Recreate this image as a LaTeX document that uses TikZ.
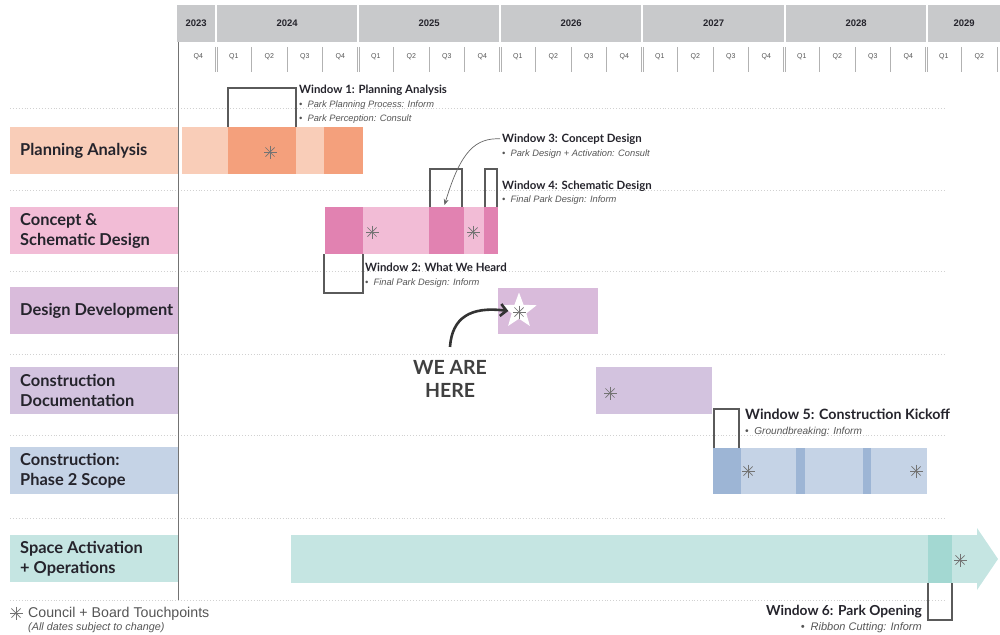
\documentclass[tikz,border=0pt]{standalone}
\usepackage{fontspec}
\setmainfont{Lato}
\newfontfamily\arialfont{Liberation Sans}
\usetikzlibrary{shapes.geometric,arrows.meta,positioning}

\definecolor{paLight}{HTML}{F9CDB8}
\definecolor{paDark}{HTML}{F4A07C}
\definecolor{csLight}{HTML}{F2BCD6}
\definecolor{csDark}{HTML}{E182B1}
\definecolor{ddFill}{HTML}{D9BBDB}
\definecolor{cdFill}{HTML}{D3C3DF}
\definecolor{cpLight}{HTML}{C5D3E6}
\definecolor{cpDark}{HTML}{9DB5D5}
\definecolor{saLight}{HTML}{C5E5E2}
\definecolor{saDark}{HTML}{A3D8D2}
\definecolor{headGray}{HTML}{C8C9CB}
\definecolor{inkDark}{HTML}{25242C}
\definecolor{itemGray}{HTML}{555555}
\definecolor{lineGray}{HTML}{5A5A5A}

\tikzstyle{phase} = [rectangle, inner sep=0pt, outer sep=0pt, anchor=north west,
    minimum height=47pt]
\tikzstyle{phasebox} = [phase, minimum width=168pt]
\tikzstyle{phasetitle} = [inner sep=0pt, align=left, text=inkDark,
    font=\bfseries\fontsize{16.4}{20}\selectfont]
\tikzstyle{yearbox} = [fill=headGray, rectangle, inner sep=0pt, anchor=north west,
    minimum height=37pt, text=inkDark, font=\arialfont\bfseries\fontsize{9.5}{11}\selectfont]
\tikzstyle{quarter} = [text=itemGray, font=\arialfont\fontsize{7}{8}\selectfont]
\tikzstyle{window} = [draw=lineGray, line width=1.1pt]
\tikzstyle{wintitle} = [anchor=base west, inner sep=0pt, text=inkDark,
    font=\bfseries\fontsize{11.4}{13}\selectfont]
\tikzstyle{winitem} = [anchor=base west, inner sep=0pt, text=itemGray,
    font=\arialfont\itshape\fontsize{9.3}{11}\selectfont]
\tikzstyle{divider} = [dotted, line width=0.9pt, color=black!18]

\tikzset{touch/.pic={
    \foreach \a in {0,45,90,135}
        \draw[color=black!55, line width=0.7pt] (\a:6.5pt) -- (\a+180:6.5pt);
}}

\begin{document}
\begin{tikzpicture}[x=1pt,y=-1pt]
\useasboundingbox (0,0) rectangle (1000,634);

% years and quarters
\foreach \yr/\xa/\w in {2023/177/38, 2024/217/140, 2025/359/140, 2026/501/140,
    2027/643/141, 2028/786/140, 2029/928/72}
    \node[yearbox, minimum width=\w pt] (y\yr) at (\xa,5) {\yr};
\foreach \q [count=\k from 0] in {Q4,Q1,Q2,Q3,Q4,Q1,Q2,Q3,Q4,Q1,Q2,Q3,Q4,
    Q1,Q2,Q3,Q4,Q1,Q2,Q3,Q4,Q1,Q2}
    \node[quarter] (q\k) at (198.25+35.5*\k,57) {\q};
\foreach \k in {2,3,4,6,7,8,10,11,12,14,15,16,18,19,20,22,23}
    \draw[black!30, line width=0.6pt] (180.5+35.5*\k,47) -- (180.5+35.5*\k,72);
\foreach \k in {1,5,9,13,17,21} {
    \draw[black!30, line width=0.6pt] (179.3+35.5*\k,47) -- (179.3+35.5*\k,72);
    \draw[black!30, line width=0.6pt] (181.7+35.5*\k,47) -- (181.7+35.5*\k,72);
}

% row dividers
\foreach \yy in {108,190,271,354,435,518,600}
    \draw[divider] (10,\yy) -- (946,\yy);
\draw[black!55, line width=0.8pt] (178,42) -- (178,600);

% phase labels
\node[phasebox, fill=paLight] (paBox) at (10,127) {};
\node[phasetitle, right=10pt of paBox.west] (paTitle) {Planning Analysis};
\node[phasebox, fill=csLight] (csBox) at (10,207) {};
\node[phasetitle, right=10pt of csBox.west] (csTitle) {Concept \&\\Schematic Design};
\node[phasebox, fill=ddFill] (ddBox) at (10,287) {};
\node[phasetitle, right=10pt of ddBox.west] (ddTitle) {Design Development};
\node[phasebox, fill=cdFill] (cdBox) at (10,367) {};
\node[phasetitle, right=10pt of cdBox.west] (cdTitle) {Construction\\Documentation};
\node[phasebox, fill=cpLight] (cpBox) at (10,447) {};
\node[phasetitle, right=10pt of cpBox.west] (cpTitle) {Construction:\\Phase 2 Scope};
\node[phasebox, fill=saLight] (saBox) at (10,535) {};
\node[phasetitle, right=10pt of saBox.west] (saTitle) {Space Activation\\+ Operations};

% planning analysis
\node[phase, fill=paLight, minimum width=181pt] (pa) at (182,127) {};
\node[phase, fill=paDark, minimum width=68pt] (pa1) at (228,127) {};
\node[phase, fill=paDark, minimum width=39pt] (pa2) at (324,127) {};
\pic at (270,152) {touch};

% concept and schematic design
\node[phase, fill=csLight, minimum width=173pt] (cs) at (325,207) {};
\node[phase, fill=csDark, minimum width=38pt] (cs1) at (325,207) {};
\node[phase, fill=csDark, minimum width=35pt] (cs2) at (429,207) {};
\node[phase, fill=csDark, minimum width=14pt] (cs3) at (484,207) {};
\pic at (372,232) {touch};
\pic at (473,232) {touch};

% design development
\node[phase, fill=ddFill, minimum width=100pt, minimum height=46pt] (dd) at (498,288) {};
\node[star, star points=5, star point ratio=2.4, fill=white, minimum size=37pt,
    inner sep=0pt] (here) at (519,311) {};
\pic at (519,312) {touch};

% construction documentation
\node[phase, fill=cdFill, minimum width=116pt] (cd) at (596,367) {};
\pic at (610,393) {touch};

% construction phase 2
\node[phase, fill=cpLight, minimum width=214pt, minimum height=46pt] (cp) at (713,448) {};
\node[phase, fill=cpDark, minimum width=28pt, minimum height=46pt] (cp1) at (713,448) {};
\node[phase, fill=cpDark, minimum width=9pt, minimum height=46pt] (cp2) at (796,448) {};
\node[phase, fill=cpDark, minimum width=8pt, minimum height=46pt] (cp3) at (863,448) {};
\pic at (748,471) {touch};
\pic at (916,471) {touch};

% space activation
\node[phase, fill=saLight, minimum width=686pt, minimum height=48pt] (sa) at (291,535) {};
\fill[saLight] (sa.north east) -- ++(0,-7) -- (998,559) -- (977,590) -- (sa.south east) -- cycle;
\node[phase, fill=saDark, minimum width=24pt, minimum height=48pt] (sa1) at (928,535) {};
\pic at (960,560) {touch};

% engagement windows
\draw[window] (pa1.north west) -- ++(0,-39) -| (pa1.north east);
\node[wintitle] (w1) at (299,93) {Window 1: Planning Analysis};
\node[winitem] (w1a) at (299,107) {\textbullet\ \ Park Planning Process: Inform};
\node[winitem] (w1b) at (299,121) {\textbullet\ \ Park Perception: Consult};

\draw[window] ([xshift=-1pt]cs1.south west) -- ++(0,39) -| (cs1.south east);
\node[wintitle] (w2) at (365,271) {Window 2: What We Heard};
\node[winitem] (w2a) at (365,285) {\textbullet\ \ Final Park Design: Inform};

\draw[window] ([xshift=1pt]cs2.north west) -- ++(0,-38) -| ([xshift=-2pt]cs2.north east);
\node[wintitle] (w3) at (502,142) {Window 3: Concept Design};
\node[winitem] (w3a) at (502,156) {\textbullet\ \ Park Design + Activation: Consult};
\draw[black!60, line width=0.7pt, -{Stealth[length=6pt,width=5pt]}]
    ([xshift=-2pt]w3.west) .. controls (476,138) and (461,150) .. ([xshift=-2pt,yshift=2pt]cs2.north);

\draw[window] ([xshift=1pt]cs3.north west) -- ++(0,-38) -| ([xshift=-1pt]cs3.north east);
\node[wintitle] (w4) at (502,189) {Window 4: Schematic Design};
\node[winitem] (w4a) at (502,202) {\textbullet\ \ Final Park Design: Inform};

\draw[window] ([xshift=1pt]cp1.north west) -- ++(0,-39) -| ([xshift=-2pt]cp1.north east);
\node[wintitle, font=\bfseries\fontsize{14.2}{16}\selectfont] (w5) at (745,419) {Window 5: Construction Kickoff};
\node[winitem, font=\arialfont\itshape\fontsize{10.1}{12}\selectfont] (w5a) at (745,434) {\textbullet\ \ Groundbreaking: Inform};

\draw[window] (sa1.south west) -- ++(0,37) -| (sa1.south east);
\node[wintitle, anchor=base east, font=\bfseries\fontsize{13.8}{16}\selectfont] (w6) at (922,615) {Window 6: Park Opening};
\node[winitem, anchor=base east, font=\arialfont\itshape\fontsize{11}{13}\selectfont] (w6a) at (922,630) {\textbullet\ \ Ribbon Cutting: Inform};

% we are here
\node[text=black!75, align=center, font=\bfseries\fontsize{19.5}{23}\selectfont] (weare)
    at (450,379) {WE ARE\\HERE};
\draw[black!80, line width=2.6pt, -{Straight Barb[length=6pt,width=12pt]}]
    ([yshift=10pt]weare.north) .. controls (452,318) and (470,306) .. (here.west);

% legend
\pic at (16,613) {touch};
\node[anchor=base west, inner sep=0pt, text=itemGray, font=\arialfont\fontsize{14.2}{16}\selectfont]
    (legend) at (28,617) {Council + Board Touchpoints};
\node[anchor=base west, inner sep=0pt, text=itemGray, font=\arialfont\itshape\fontsize{10.8}{12}\selectfont]
    (legendnote) at (28,630) {(All dates subject to change)};
\end{tikzpicture}
\end{document}
